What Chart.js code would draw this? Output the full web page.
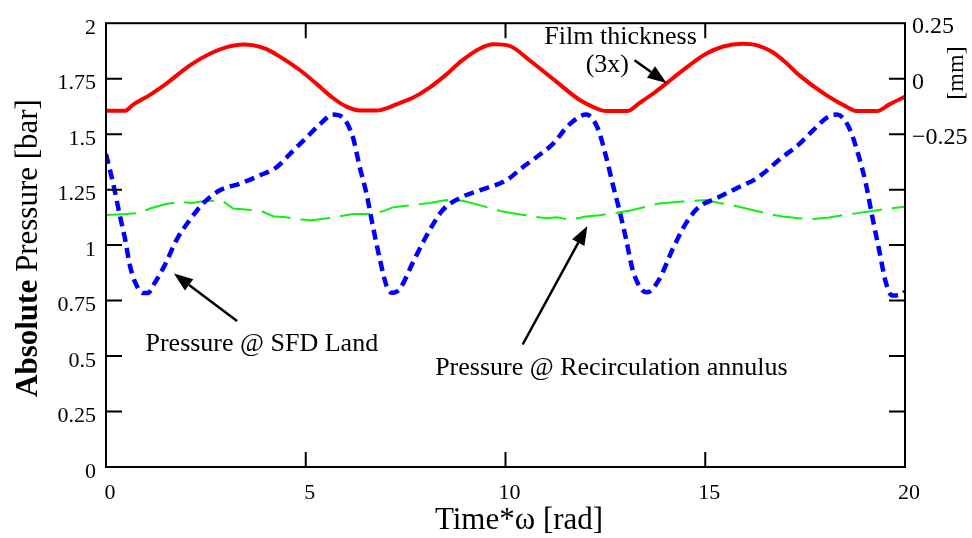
<!DOCTYPE html>
<html>
<head>
<meta charset="utf-8">
<script src="https://cdn.jsdelivr.net/npm/chart.js@4.4.0/dist/chart.umd.min.js"></script>
<style>
  body { margin: 0; background: #fff; }
  #wrap { width: 972px; height: 538px; }
</style>
</head>
<body>
<div id="wrap"><canvas id="myChart"></canvas></div>
<script>
// film thickness (3x), plotted on the pressure axis
const filmTime  = [0, 0.48, 0.68, 1.1, 1.52, 2.1, 2.6, 3.02, 3.43, 3.7, 4.0, 4.3, 4.85, 5.3, 5.68, 6.02, 6.35, 6.78, 7.1, 7.35, 7.68, 8.1, 8.5, 8.9, 9.35, 9.7, 10.1, 10.6, 11.27, 11.85, 12.2, 12.52, 13.05, 13.35, 13.75, 14.18, 14.6, 15.02, 15.45, 15.93, 16.3, 16.68, 17.0, 17.35, 18.02, 18.52, 18.8, 19.3, 19.6, 19.93, 20]
const filmValue = [1.605, 1.606, 1.633, 1.677, 1.729, 1.81, 1.862, 1.892, 1.904, 1.9, 1.884, 1.855, 1.789, 1.722, 1.663, 1.624, 1.607, 1.607, 1.622, 1.64, 1.664, 1.71, 1.766, 1.83, 1.885, 1.905, 1.898, 1.833, 1.737, 1.655, 1.622, 1.604, 1.604, 1.64, 1.69, 1.751, 1.81, 1.862, 1.895, 1.907, 1.9, 1.87, 1.825, 1.766, 1.677, 1.625, 1.604, 1.604, 1.633, 1.663, 1.668]

const landTime  = [0, 0.18, 0.35, 0.48, 0.6, 0.73, 0.93, 1.05, 1.18, 1.48, 1.77, 2.1, 2.43, 2.85, 3.35, 3.85, 4.27, 4.68, 5.02, 5.35, 5.68, 5.93, 6.18, 6.35, 6.52, 6.68, 6.85, 7.02, 7.15, 7.35, 7.68, 8.02, 8.43, 8.93, 9.35, 10.02, 10.43, 10.77, 11.18, 11.6, 12.02, 12.3, 12.52, 12.68, 12.85, 13.02, 13.18, 13.43, 13.55, 13.85, 14.18, 14.52, 14.85, 15.27, 15.85, 16.27, 16.93, 17.35, 17.68, 18.1, 18.3, 18.6, 18.85, 19.02, 19.18, 19.35, 19.52, 19.68, 19.93, 20]
const landValue = [1.41, 1.277, 1.13, 1.025, 0.907, 0.832, 0.784, 0.784, 0.818, 0.913, 1.025, 1.114, 1.188, 1.247, 1.277, 1.314, 1.351, 1.425, 1.485, 1.544, 1.588, 1.574, 1.486, 1.352, 1.232, 1.085, 0.94, 0.818, 0.785, 0.802, 0.921, 1.041, 1.158, 1.218, 1.247, 1.292, 1.351, 1.396, 1.455, 1.544, 1.588, 1.53, 1.397, 1.277, 1.158, 1.025, 0.891, 0.795, 0.787, 0.847, 0.98, 1.099, 1.173, 1.21, 1.262, 1.299, 1.396, 1.455, 1.514, 1.581, 1.588, 1.529, 1.396, 1.277, 1.129, 0.98, 0.832, 0.773, 0.78, 0.79]

const annulusTime  = [0, 0.5, 0.85, 1.1, 1.5, 1.85, 2.15, 2.5, 2.93, 3.18, 3.5, 3.93, 4.18, 4.5, 4.85, 5.15, 5.5, 5.85, 6.18, 6.5, 6.93, 7.18, 7.68, 8.1, 8.52, 8.93, 9.35, 9.93, 10.3, 10.6, 11.02, 11.3, 11.6, 12.02, 12.35, 12.68, 13.1, 13.52, 13.85, 14.43, 15.02, 15.35, 15.68, 16.18, 16.6, 16.93, 17.35, 17.7, 18.1, 18.45, 18.77, 19.18, 19.6, 20]
const annulusValue = [1.136, 1.14, 1.145, 1.165, 1.185, 1.195, 1.19, 1.2, 1.197, 1.165, 1.16, 1.15, 1.13, 1.125, 1.115, 1.112, 1.12, 1.13, 1.14, 1.14, 1.152, 1.17, 1.18, 1.19, 1.203, 1.2, 1.18, 1.151, 1.14, 1.131, 1.121, 1.125, 1.114, 1.129, 1.135, 1.143, 1.155, 1.173, 1.188, 1.196, 1.203, 1.19, 1.18, 1.158, 1.14, 1.129, 1.121, 1.118, 1.124, 1.135, 1.143, 1.154, 1.165, 1.173]

const pressureTickValues = [0, 0.25, 0.5, 0.75, 1, 1.25, 1.5, 1.75, 2]
const pressureTickLabels = ['0', '0.25', '0.5', '0.75', '1', '1.25', '1.5', '1.75', '2']
const filmTickValues = [0.25, 0, -0.25]
const filmTickLabels = ['0.25', '0', '\u22120.25']

const serif = "'Liberation Serif', 'Times New Roman', serif"

const toXY = (xs, ys) => xs.map((x, i) => ({x: x, y: ys[i]}))
const labelFor = (vals, labels) => v => {
    const i = vals.findIndex(t => Math.abs(t - v) < 1e-6)
    return i < 0 ? '' : labels[i]
}

// text + arrows, placed in data units
const notes = [
    {text: 'Film thickness', x: 12.88, y: 1.935},
    {text: '(3x)', x: 12.55, y: 1.811},
    {text: 'Pressure @ SFD Land', x: 3.9, y: 0.552},
    {text: 'Pressure @ Recirculation annulus', x: 12.65, y: 0.445}
]
const arrows = [
    {from: [13.23, 1.833], to: [14.03, 1.73]},
    {from: [3.28, 0.658], to: [1.7, 0.872]},
    {from: [10.43, 0.552], to: [12.05, 1.086]}
]

const framePlugin = {
    id: 'frame',
    afterDatasetsDraw(chart) {
        const ctx = chart.ctx
        const a = chart.chartArea
        const sx = chart.scales.x, sy = chart.scales.y
        ctx.save()
        ctx.strokeStyle = '#000'
        ctx.lineWidth = 2
        ctx.strokeRect(a.left, a.top, a.right - a.left, a.bottom - a.top)
        ctx.beginPath()
        for (let v = 0.25; v < 2; v += 0.25) {
            const py = sy.getPixelForValue(v)
            ctx.moveTo(a.left, py); ctx.lineTo(a.left + 16, py)
            ctx.moveTo(a.right, py); ctx.lineTo(a.right - 16, py)
        }
        for (let v = 5; v < 20; v += 5) {
            const px = sx.getPixelForValue(v)
            ctx.moveTo(px, a.bottom); ctx.lineTo(px, a.bottom - 15)
            ctx.moveTo(px, a.top); ctx.lineTo(px, a.top + 15)
        }
        ctx.stroke()

        // annotations
        ctx.fillStyle = '#000'
        ctx.font = '26px ' + serif
        ctx.textAlign = 'center'
        ctx.textBaseline = 'middle'
        notes.forEach(n => ctx.fillText(n.text, sx.getPixelForValue(n.x), sy.getPixelForValue(n.y)))
        ctx.lineWidth = 2.5
        arrows.forEach(ar => {
            const x1 = sx.getPixelForValue(ar.from[0]), y1 = sy.getPixelForValue(ar.from[1])
            const x2 = sx.getPixelForValue(ar.to[0]), y2 = sy.getPixelForValue(ar.to[1])
            const ang = Math.atan2(y2 - y1, x2 - x1)
            const hl = 19, hw = 7
            const bx = x2 - hl * Math.cos(ang), by = y2 - hl * Math.sin(ang)
            ctx.beginPath(); ctx.moveTo(x1, y1); ctx.lineTo(bx, by); ctx.stroke()
            ctx.beginPath()
            ctx.moveTo(x2, y2)
            ctx.lineTo(bx + hw * Math.sin(ang), by - hw * Math.cos(ang))
            ctx.lineTo(bx - hw * Math.sin(ang), by + hw * Math.cos(ang))
            ctx.closePath(); ctx.fill()
        })

        // axis titles
        ctx.textAlign = 'left'
        ctx.save()
        ctx.translate(29, 248)
        ctx.rotate(-Math.PI / 2)
        ctx.font = 'bold 31px ' + serif
        const w1 = ctx.measureText('Absolute').width
        ctx.font = '31px ' + serif
        const w2 = ctx.measureText(' Pressure [bar]').width
        ctx.font = 'bold 31px ' + serif
        ctx.fillText('Absolute', -(w1 + w2) / 2, 0)
        ctx.font = '31px ' + serif
        ctx.fillText(' Pressure [bar]', -(w1 + w2) / 2 + w1, 0)
        ctx.restore()

        ctx.save()
        ctx.translate(957, 73)
        ctx.rotate(-Math.PI / 2)
        ctx.textAlign = 'center'
        ctx.font = '24px ' + serif
        ctx.fillText('[mm]', 0, 0)
        ctx.restore()

        ctx.textAlign = 'center'
        ctx.font = '31px ' + serif
        ctx.fillText('Time*\u03c9 [rad]', 519, 521)
        ctx.restore()
    }
}

const myChart = new Chart(document.getElementById('myChart'), {
    type: 'line',
    data: {
        datasets: [{
            label: 'Film thickness',
            data: toXY(filmTime, filmValue),
            borderColor: '#ff0000',
            borderWidth: 4,
            pointRadius: 0,
            cubicInterpolationMode: 'monotone',
            order: 0
        }, {
            label: 'Pressure @ SFD Land',
            data: toXY(landTime, landValue),
            borderColor: '#0000ff',
            borderWidth: 4.5,
            borderDash: [10, 6],
            pointRadius: 0,
            cubicInterpolationMode: 'monotone',
            order: 1
        }, {
            label: 'Pressure @ Recirculation annulus',
            data: toXY(annulusTime, annulusValue),
            borderColor: '#11ee11',
            borderWidth: 2,
            borderDash: [30, 10],
            pointRadius: 0,
            tension: 0,
            order: 2
        }]
    },
    plugins: [framePlugin],
    options: {
        responsive: true,
        maintainAspectRatio: false,
        animation: false,
        layout: {padding: {top: 18, left: 0, right: 0, bottom: 0}},
        plugins: {legend: {display: false}, tooltip: {enabled: false}},
        scales: {
            x: {
                type: 'linear', min: 0, max: 20,
                grid: {display: false, drawTicks: false},
                border: {display: false},
                ticks: {stepSize: 5, padding: 13, labelOffset: 4, color: '#000', font: {family: serif, size: 22}, maxRotation: 0},
                afterFit: s => { s.height = 71 }
            },
            y: {
                position: 'left', min: 0, max: 2,
                grid: {display: false, drawTicks: false},
                border: {display: false},
                ticks: {
                    stepSize: 0.25, padding: 10, labelOffset: 5, color: '#000', font: {family: serif, size: 22},
                    callback: labelFor(pressureTickValues, pressureTickLabels)
                },
                afterFit: s => { s.width = 106 }
            },
            y2: {
                position: 'right', min: -1.75, max: 0.25,
                grid: {display: false, drawTicks: false},
                border: {display: false},
                ticks: {
                    stepSize: 0.25, padding: 7, labelOffset: 4, color: '#000', font: {family: serif, size: 24},
                    callback: labelFor(filmTickValues, filmTickLabels)
                },
                afterFit: s => { s.width = 67 }
            }
        }
    }
})
</script>
</body>
</html>
